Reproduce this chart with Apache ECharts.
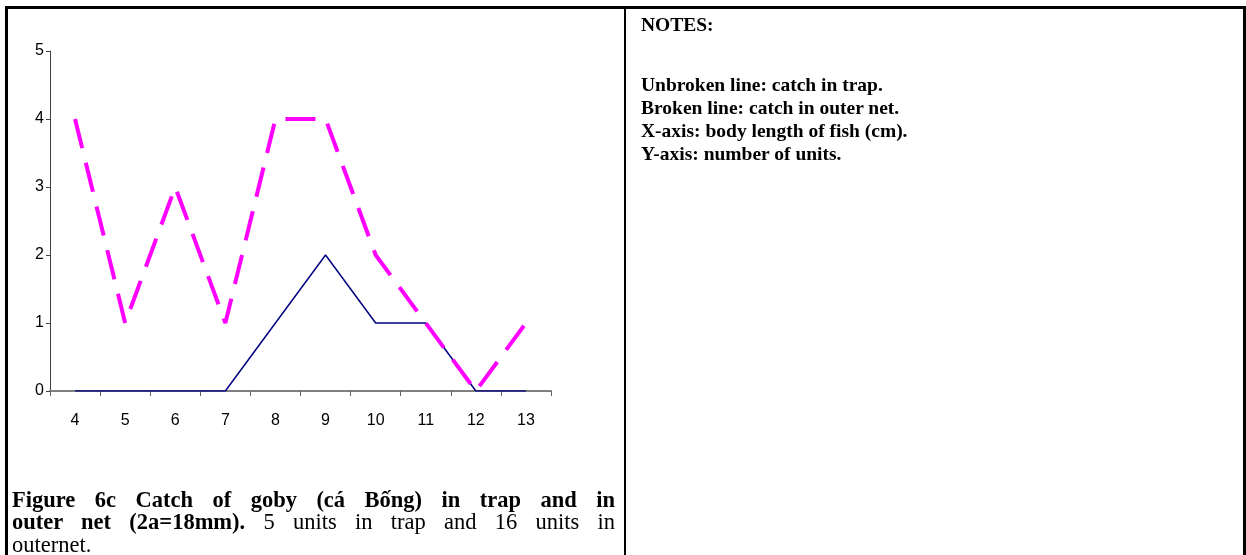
<!DOCTYPE html>
<html>
<head>
<meta charset="utf-8">
<script src="https://cdn.jsdelivr.net/npm/echarts@6/dist/echarts.min.js"></script>
<style>
  html, body { margin: 0; padding: 0; background: #fff; }
  #page { position: relative; width: 1246px; height: 555px; overflow: hidden; background: #fff; }
  #chart { position: absolute; left: 0; top: 0; width: 1246px; height: 555px; }
  .bd { position: absolute; background: #000; }
  .txt { position: absolute; font-family: "Liberation Serif", "Times New Roman", serif; color: #000; white-space: nowrap; }
  .cap { font-size: 22.5px; line-height: 23px; }
  .note { font-size: 19.5px; line-height: 22px; }
  .b { font-weight: bold; }
  .just { text-align: justify; text-align-last: justify; white-space: normal; }
</style>
</head>
<body>
<div id="page">
  <div id="chart"></div>
  <div class="bd" style="left:5px;top:6px;width:1241px;height:3px;"></div>
  <div class="bd" style="left:5px;top:6px;width:3px;height:549px;"></div>
  <div class="bd" style="left:1243px;top:6px;width:3px;height:549px;"></div>
  <div class="bd" style="left:624px;top:6px;width:2px;height:549px;"></div>

  <div class="txt cap just" style="left:12px;top:488px;width:603px;"><span class="b">Figure 6c Catch of goby (cá Bống) in trap and in</span></div>
  <div class="txt cap just" style="left:12px;top:510px;width:603px;"><span class="b">outer net (2a=18mm).</span> 5 units in trap and 16 units in</div>
  <div class="txt cap" style="left:12px;top:533px;">outernet.</div>

  <div class="txt note b" style="left:641px;top:14px;">NOTES:</div>
  <div class="txt note b" style="left:641px;top:74px;">Unbroken line: catch in trap.</div>
  <div class="txt note b" style="left:641px;top:97px;">Broken line: catch in outer net.</div>
  <div class="txt note b" style="left:641px;top:120px;">X-axis: body length of fish (cm).</div>
  <div class="txt note b" style="left:641px;top:143px;">Y-axis: number of units.</div>
</div>
<script>
const categories = ['4', '5', '6', '7', '8', '9', '10', '11', '12', '13'];
const trapValues = [0, 0, 0, 0, 1, 2, 1, 1, 0, 0];
const outerNetValues = [4, 1, 3, 1, 4, 4, 2, 1, 0, 1];
const yTicks = { min: 0, max: 5, interval: 1 };

const labelFont = "'Liberation Sans Narrow', 'Arial Narrow', 'Liberation Sans', Arial, sans-serif";

const chart = echarts.init(document.getElementById('chart'), null, { renderer: 'canvas' });
chart.setOption({
  animation: false,
  backgroundColor: 'transparent',
  grid: { left: 50, top: 51, width: 501, height: 340, containLabel: false },
  xAxis: {
    type: 'category',
    data: categories,
    boundaryGap: true,
    axisLine: { show: true, lineStyle: { color: '#808080', width: 2 } },
    axisTick: { show: true, length: 5, alignWithLabel: false, lineStyle: { color: '#606060', width: 1 } },
    axisLabel: { color: '#000', fontSize: 16, fontFamily: labelFont, margin: 22 },
    splitLine: { show: false }
  },
  yAxis: {
    type: 'value',
    min: yTicks.min,
    max: yTicks.max,
    interval: yTicks.interval,
    axisLine: { show: true, lineStyle: { color: '#404040', width: 1 } },
    axisTick: { show: true, length: 4, lineStyle: { color: '#404040', width: 1 } },
    axisLabel: { color: '#000', fontSize: 16, fontFamily: labelFont, margin: 6 },
    splitLine: { show: false }
  },
  series: [
    {
      name: 'Trap',
      type: 'line',
      data: trapValues,
      symbol: 'none',
      lineStyle: { color: '#000080', width: 1.5, type: 'solid' },
      z: 2
    },
    {
      name: 'Outer net',
      type: 'line',
      data: outerNetValues,
      symbol: 'none',
      lineStyle: { color: '#FF00FF', width: 4, type: [30, 15], cap: 'butt' },
      z: 3
    }
  ]
});
</script>
</body>
</html>
